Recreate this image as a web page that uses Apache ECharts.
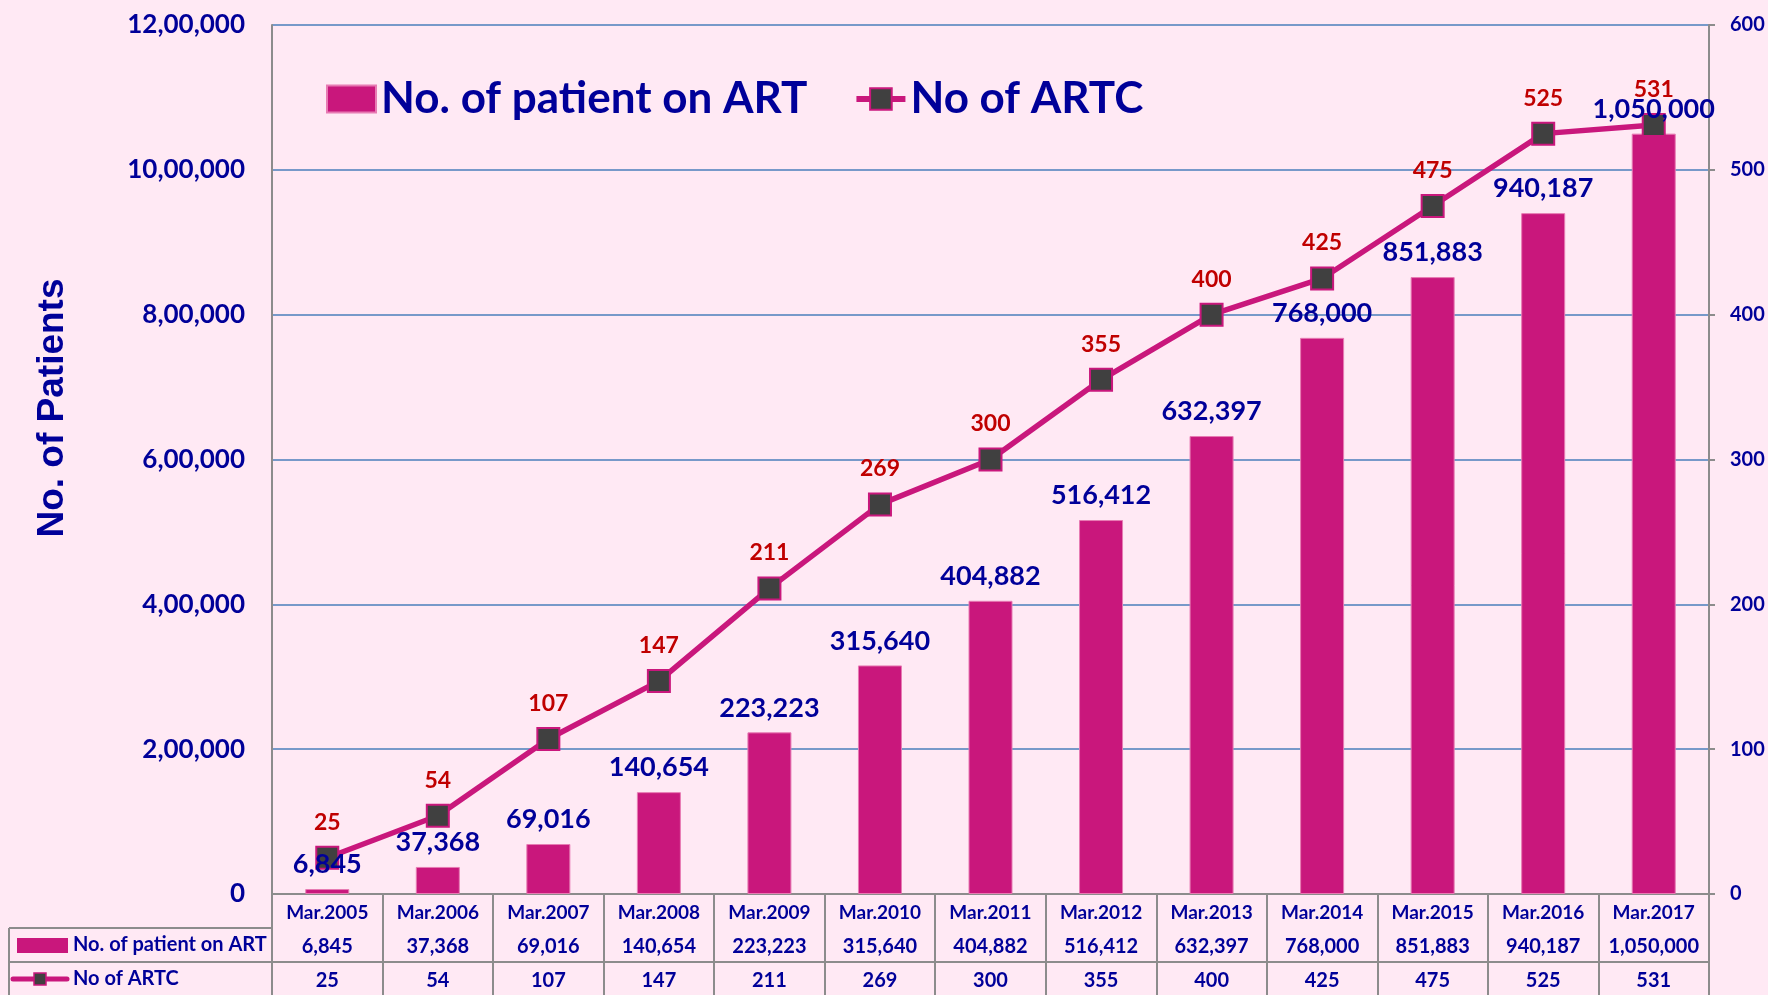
<!DOCTYPE html>
<html>
<head>
<meta charset="utf-8">
<script src="https://cdn.jsdelivr.net/npm/echarts@6/dist/echarts.min.js"></script>
<style>
  html, body { margin: 0; padding: 0; background: #FFE9F4; }
  #main { width: 1768px; height: 995px; }
</style>
</head>
<body>
<div id="main"></div>
<script>
var categories = ['Mar.2005', 'Mar.2006', 'Mar.2007', 'Mar.2008', 'Mar.2009', 'Mar.2010', 'Mar.2011',
  'Mar.2012', 'Mar.2013', 'Mar.2014', 'Mar.2015', 'Mar.2016', 'Mar.2017'];
var patientsOnArt = [6845, 37368, 69016, 140654, 223223, 315640, 404882, 516412, 632397, 768000, 851883, 940187, 1050000];
var artcCount = [25, 54, 107, 147, 211, 269, 300, 355, 400, 425, 475, 525, 531];

var MAGENTA = '#C9177C';
var NAVY = '#000099';
var RED = '#C00000';
var GRAY = '#8C8C8C';
var FONT = 'Lato';

// 12,00,000 style (left axis)
function indianFormat(n) {
  var s = String(n);
  if (s.length <= 3) return s;
  var last3 = s.slice(-3);
  var rest = s.slice(0, -3);
  var parts = [];
  while (rest.length > 2) {
    parts.unshift(rest.slice(-2));
    rest = rest.slice(0, -2);
  }
  if (rest) parts.unshift(rest);
  return parts.join(',') + ',' + last3;
}
// 1,050,000 style (labels and table)
function westernFormat(n) {
  return String(n).replace(/\B(?=(\d{3})+(?!\d))/g, ',');
}

var myChart = echarts.init(document.getElementById('main'));

myChart.setOption({
  backgroundColor: '#FFE9F4',
  textStyle: { fontFamily: FONT },
  grid: { left: 272, right: 59, top: 25, bottom: 101 },
  legend: {
    left: 326, top: 77, padding: 0,
    itemWidth: 49, itemHeight: 27, itemGap: 46,
    data: [{ name: 'No. of patient on ART', icon: 'rect' }, { name: 'No of ARTC' }],
    lineStyle: { width: 6 },
    textStyle: { fontFamily: FONT, fontSize: 44, fontWeight: 'bold', color: NAVY }
  },
  xAxis: [
    {
      type: 'category', data: categories, position: 'bottom',
      axisLine: { lineStyle: { color: GRAY, width: 2 } },
      axisTick: { show: true, interval: 0, length: 101, lineStyle: { color: GRAY, width: 2 } },
      axisLabel: { interval: 0, margin: 9, fontFamily: FONT, fontSize: 19, fontWeight: 'bold', color: NAVY }
    },
    {
      type: 'category', data: patientsOnArt.map(westernFormat), position: 'bottom', offset: 34,
      axisLine: { lineStyle: { color: GRAY, width: 2 } },
      axisTick: { show: false },
      axisLabel: { interval: 0, margin: 9, fontFamily: FONT, fontSize: 20, fontWeight: 'bold', color: NAVY }
    },
    {
      type: 'category', data: artcCount.map(String), position: 'bottom', offset: 68,
      axisLine: { lineStyle: { color: GRAY, width: 2 } },
      axisTick: { show: false },
      axisLabel: { interval: 0, margin: 9, fontFamily: FONT, fontSize: 20, fontWeight: 'bold', color: NAVY }
    }
  ],
  yAxis: [
    {
      type: 'value', min: 0, max: 1200000, interval: 200000,
      axisLine: { show: true, lineStyle: { color: GRAY, width: 2 } },
      axisTick: { show: false },
      splitLine: { lineStyle: { color: '#4A7EBB', width: 1.5 } },
      axisLabel: { margin: 27, formatter: indianFormat, fontFamily: FONT, fontSize: 26, fontWeight: 'bold', color: NAVY }
    },
    {
      type: 'value', min: 0, max: 600, interval: 100, position: 'right',
      axisLine: { show: true, lineStyle: { color: GRAY, width: 2 } },
      axisTick: { show: true, length: 6, lineStyle: { color: GRAY, width: 2 } },
      splitLine: { show: false },
      axisLabel: { margin: 21, fontFamily: FONT, fontSize: 20, fontWeight: 'bold', color: NAVY }
    }
  ],
  series: [
    {
      name: 'No. of patient on ART', type: 'bar', data: patientsOnArt,
      barWidth: 44,
      itemStyle: { color: MAGENTA, borderColor: '#E77BB3', borderWidth: 1 },
      z: 2
    },
    {
      name: 'No of ARTC', type: 'line', yAxisIndex: 1, data: artcCount,
      symbol: 'rect', symbolSize: 22,
      lineStyle: { color: MAGENTA, width: 5.5 },
      itemStyle: { color: '#404040', borderColor: MAGENTA, borderWidth: 2 },
      label: { show: true, position: 'top', distance: 12, fontFamily: FONT, fontSize: 23, fontWeight: 'bold', color: RED },
      z: 3
    },
    {
      // value labels for the bars, kept above the line markers
      name: 'barLabels', type: 'scatter', data: patientsOnArt,
      symbolSize: 0, silent: true,
      itemStyle: { opacity: 1 },
      label: {
        show: true, position: 'top', distance: 11,
        formatter: function (p) { return westernFormat(p.value); },
        fontFamily: FONT, fontSize: 27, fontWeight: 'bold', color: NAVY, opacity: 1
      },
      z: 10
    }
  ],
  graphic: [
    {
      type: 'text', x: 53, y: 408, rotation: Math.PI / 2,
      style: { text: 'No. of Patients', fill: NAVY, font: 'bold 37px "Liberation Sans", Arial, sans-serif', textAlign: 'center', textVerticalAlign: 'middle' }
    },
    { type: 'line', shape: { x1: 9, y1: 928, x2: 272, y2: 928 }, style: { stroke: GRAY, lineWidth: 2 } },
    { type: 'line', shape: { x1: 9, y1: 962, x2: 272, y2: 962 }, style: { stroke: GRAY, lineWidth: 2 } },
    { type: 'line', shape: { x1: 9, y1: 928, x2: 9, y2: 995 }, style: { stroke: GRAY, lineWidth: 2 } },
    { type: 'rect', shape: { x: 17, y: 938, width: 51, height: 15 }, style: { fill: MAGENTA } },
    {
      type: 'text', x: 73, y: 945,
      style: { text: 'No. of patient on ART', fill: NAVY, font: 'bold 20px Lato', textVerticalAlign: 'middle' }
    },
    { type: 'line', shape: { x1: 13, y1: 979, x2: 67, y2: 979 }, style: { stroke: MAGENTA, lineWidth: 5, lineCap: 'round' } },
    { type: 'rect', shape: { x: 34, y: 973, width: 12, height: 12 }, style: { fill: '#404040', stroke: MAGENTA, lineWidth: 1.5 } },
    {
      type: 'text', x: 73, y: 979,
      style: { text: 'No of ARTC', fill: NAVY, font: 'bold 20px Lato', textVerticalAlign: 'middle' }
    }
  ]
});
</script>
</body>
</html>
